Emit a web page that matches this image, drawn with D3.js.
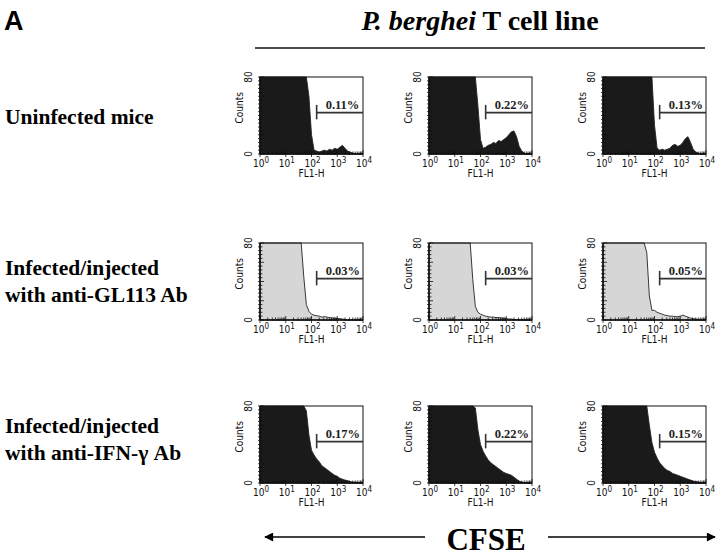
<!DOCTYPE html>
<html><head><meta charset="utf-8">
<script src="https://cdn.jsdelivr.net/npm/d3@7"></script>
<style>body{margin:0;background:#fff}svg{display:block}</style>
</head><body>
<svg id="c" width="720" height="559"></svg>
<script>
// ---- data ----
const bins = [0,0.1,0.2,0.3,0.4,0.5,0.6,0.7,0.8,0.9,1.0,1.1,1.2,1.3,1.4,1.5,1.6,1.7,1.8,1.9,2.0,2.1,2.2,2.3,2.4,2.5,2.6,2.7,2.8,2.9,3.0,3.1,3.2,3.3,3.4,3.5,3.6,3.7,3.8,3.9,4.0];
const uninfected1 = [80,80,80,80,80,80,80,80,80,80,80,80,80,80,80,80,80,80,80,60,20,4,3,2,3,4,3,5,4,6,5,7,9,6,3,2,1,0.5,0,0,0];
const uninfected2 = [80,80,80,80,80,80,80,80,80,80,80,80,80,80,80,80,80,80,80,50,15,6,7,9,10,12,11,14,13,15,17,20,23,24,18,8,3,1,0,0,0];
const uninfected3 = [80,80,80,80,80,80,80,80,80,80,80,80,80,80,80,80,80,80,80,80,30,6,4,5,4,5,6,9,10,8,9,12,16,18,12,5,2,1,0,0,0];
const antiGL1 = [80,80,80,80,80,80,80,80,80,80,80,80,80,80,80,80,80,45,16,9,6,5,4.5,4,3,3.5,3,2.5,2,2,1.5,1.5,1,0.5,0,0,0,0,0,0,0];
const antiGL2 = [80,80,80,80,80,80,80,80,80,80,80,80,80,80,80,80,80,42,14,8,6,5,4,3.5,3,3,2.5,2.5,2,2,1.5,1,1,0.5,0.5,0.3,0,0,0,0,0];
const antiGL3 = [80,80,80,80,80,80,80,80,80,80,80,80,80,80,80,80,80,70,25,10,10,8,7,6,5,4.5,4,4,3.5,3.5,4,5,4,3,2,1.5,1,0.5,0,0,0];
const antiIFN1 = [80,80,80,80,80,80,80,80,80,80,80,80,80,80,80,80,80,80,75,50,34,29,25,22,18,16,14,12,10,8,7,5,4,3,2.5,1.5,1,1,0.5,0.2,0];
const antiIFN2 = [80,80,80,80,80,80,80,80,80,80,80,80,80,80,80,80,80,80,78,55,40,33,28,24,21,19,17,15,13,11,10,9,8,6,4,2,1,0.5,0,0,0];
const antiIFN3 = [80,80,80,80,80,80,80,80,80,80,80,80,80,80,80,80,80,80,60,42,32,26,21,18,15,13,12,10,9,8,7,6,5,4,3,2,1.5,1,0.5,0.2,0];
const percents = [["0.11%","0.22%","0.13%"],["0.03%","0.03%","0.05%"],["0.17%","0.22%","0.15%"]];
const rowLabels = [["Uninfected mice"],["Infected/injected","with anti-GL113 Ab"],["Infected/injected","with anti-IFN-\u03b3 Ab"]];
const xTickExps = ["0","1","2","3","4"];
const yTickLabels = ["0","80"];
const gateLog = 2.2;          // marker start (log10 FL1-H)
const gateLevel = [36, 43, 51]; // marker bar (counts)
const panels = [[uninfected1,uninfected2,uninfected3],[antiGL1,antiGL2,antiGL3],[antiIFN1,antiIFN2,antiIFN3]];

// ---- layout ----
const colX = [260, 429, 603], rowY = [77, 243, 406], PW = 103, PH = 77;
const rowFill = ["#1a1a1a", "#d6d6d6", "#1a1a1a"];
const svg = d3.select("#c");

svg.append("text").attr("x", 4).attr("y", 30).text("A")
  .attr("font-family", "Liberation Sans Narrow, Liberation Sans, Arial, sans-serif").attr("font-weight", "bold").attr("font-size", 27);
const title = svg.append("text").attr("x", 480).attr("y", 30).attr("text-anchor", "middle")
  .attr("font-family", "Liberation Serif, Times New Roman, serif").attr("font-weight", "bold").attr("font-size", 28);
title.append("tspan").attr("font-style", "italic").text("P. berghei");
title.append("tspan").text(" T cell line");
svg.append("line").attr("x1", 255).attr("x2", 705).attr("y1", 48).attr("y2", 48).attr("stroke", "#111").attr("stroke-width", 1.3);

// row labels
const rowBase = [124, 275, 433];
rowLabels.forEach((lines, r) => {
  lines.forEach((t, i) => {
    svg.append("text").attr("x", 5).attr("y", rowBase[r] + i * 26.5).text(t)
      .attr("font-family", "Liberation Serif, Times New Roman, serif").attr("font-weight", "bold").attr("font-size", 21.5);
  });
});

const sans = "Liberation Sans Narrow, DejaVu Sans Condensed, Liberation Sans, Arial, sans-serif";
panels.forEach((row, r) => row.forEach((vals, c) => {
  const g = svg.append("g").attr("transform", `translate(${colX[c]},${rowY[r]})`);
  const x = d3.scaleLinear().domain([0, 4]).range([0, PW]);
  const xl = d3.scaleLog().domain([1, 1e4]).range([0, PW]);
  const y = d3.scaleLinear().domain([0, 80]).range([PH, 0]).clamp(true);
  const area = d3.area().x((d, i) => x(bins[i])).y0(PH).y1(d => y(d));
  const line = d3.line().x((d, i) => x(bins[i])).y(d => y(d));
  g.append("path").datum(vals).attr("d", area).attr("fill", rowFill[r]);
  g.append("path").datum(vals).attr("d", line).attr("fill", "none").attr("stroke", "#222").attr("stroke-width", 0.9);
  // frame
  g.append("rect").attr("width", PW).attr("height", PH).attr("fill", "none").attr("stroke", "#111").attr("stroke-width", 1);
  g.append("line").attr("x1", 0).attr("x2", PW).attr("y1", PH).attr("y2", PH).attr("stroke", "#111").attr("stroke-width", 1.6);
  g.append("line").attr("x1", 0).attr("x2", 0).attr("y1", 0).attr("y2", PH).attr("stroke", "#111").attr("stroke-width", 1.6);
  // y ticks
  d3.range(0, 81, 4).forEach(v => {
    const L = v % 20 === 0 ? 4 : 2.5;
    g.append("line").attr("x1", -2).attr("x2", L).attr("y1", y(v)).attr("y2", y(v)).attr("stroke", "#111").attr("stroke-width", 0.8);
  });
  // x ticks
  xl.ticks().forEach(v => {
    const dec = Math.abs(Math.log10(v) - Math.round(Math.log10(v))) < 1e-9;
    g.append("line").attr("x1", xl(v)).attr("x2", xl(v)).attr("y1", PH + (dec ? 3 : 1)).attr("y2", PH - (dec ? 4 : 2.5))
      .attr("stroke", "#111").attr("stroke-width", 0.8);
  });
  // tick labels
  xTickExps.forEach((e, i) => {
    const t = g.append("text").attr("x", x(i) + 1).attr("y", PH + 13).attr("text-anchor", "middle")
      .attr("font-family", sans).attr("font-size", 10).attr("fill", "#111");
    t.append("tspan").text("10");
    t.append("tspan").attr("dy", -4.5).attr("font-size", 8).text(e);
  });
  g.append("text").attr("x", PW / 2).attr("y", PH + 23).attr("text-anchor", "middle")
    .attr("font-family", sans).attr("font-size", 10).attr("fill", "#111").text("FL1-H");
  yTickLabels.forEach(l => {
    g.append("text").attr("transform", `translate(-8.5,${y(+l)}) rotate(-90)`).attr("text-anchor", "middle")
      .attr("font-family", sans).attr("font-size", 10).attr("fill", "#111").text(l);
  });
  g.append("text").attr("transform", `translate(-17,${PH * 0.4}) rotate(-90)`).attr("text-anchor", "middle")
    .attr("font-family", sans).attr("font-size", 10).attr("fill", "#111").text("Counts");
  // marker
  const gx = x(gateLog);
  g.append("line").attr("x1", gx).attr("x2", gx).attr("y1", y(gateLevel[2])).attr("y2", y(gateLevel[0])).attr("stroke", "#333").attr("stroke-width", 1.6);
  g.append("line").attr("x1", gx).attr("x2", PW).attr("y1", y(gateLevel[1])).attr("y2", y(gateLevel[1])).attr("stroke", "#333").attr("stroke-width", 1.6);
  g.append("text").attr("x", gx + 9).attr("y", y(gateLevel[1]) - 4).text(percents[r][c])
    .attr("font-family", "Liberation Serif, Times New Roman, serif").attr("font-weight", "bold").attr("font-size", 12.5).attr("fill", "#222");
}));

// CFSE arrows
const ay = 537;
svg.append("defs").append("marker").attr("id", "ah").attr("viewBox", "0 0 10 10").attr("refX", 9).attr("refY", 5)
  .attr("markerWidth", 10).attr("markerHeight", 9).attr("orient", "auto-start-reverse").attr("markerUnits", "userSpaceOnUse")
  .append("path").attr("d", "M0,0L10,5L0,10z").attr("fill", "#000");
svg.append("line").attr("x1", 425).attr("x2", 265).attr("y1", ay).attr("y2", ay).attr("stroke", "#000").attr("stroke-width", 1.6).attr("marker-end", "url(#ah)");
svg.append("line").attr("x1", 548).attr("x2", 715).attr("y1", ay).attr("y2", ay).attr("stroke", "#000").attr("stroke-width", 1.6).attr("marker-end", "url(#ah)");
svg.append("text").attr("x", 486).attr("y", 550).attr("text-anchor", "middle").text("CFSE")
  .attr("font-family", "Liberation Serif, Times New Roman, serif").attr("font-weight", "bold").attr("font-size", 31);
</script>
</body></html>
